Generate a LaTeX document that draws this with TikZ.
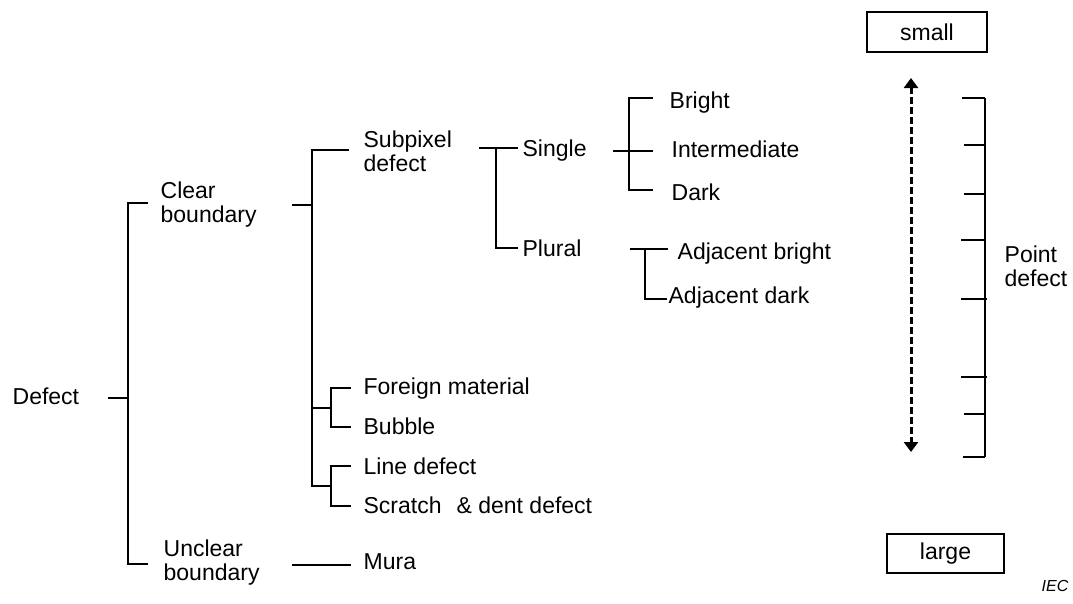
\documentclass[tikz,border=0pt]{standalone}
\usepackage{fontspec}
\setmainfont{Liberation Sans}
\usetikzlibrary{arrows.meta}
\begin{document}
\begin{tikzpicture}[x=1pt,y=-1pt,line width=1.3pt,
  t/.style={inner sep=0pt,font=\fontsize{23}{24}\selectfont,anchor=base west},
  tt/.style={inner sep=0pt,font=\fontsize{23}{24}\selectfont,anchor=west,align=left},
  sizebox/.style={draw,line width=1.2pt,inner sep=0pt,font=\fontsize{23}{24}\selectfont},
  dasharrow/.style={line width=3pt,dash pattern=on 7pt off 3pt,
     {Triangle[width=14pt,length=10pt]}-{Triangle[width=14pt,length=10pt]}}]
\useasboundingbox (0,0) rectangle (1073,603);

% ---- text nodes ----
\node[t] (defect) at (12,404) {Defect};
\node[tt] (clear) at (160,205) {Clear\\boundary};
\node[tt] (unclear) at (163,563) {Unclear\\boundary};
\node[tt] (subpix) at (363,151) {Subpixel\\defect};
\node[t] (single) at (522,156) {Single};
\node[t] (plural) at (522,256) {Plural};
\node[t] (bright) at (669,108) {Bright};
\node[t] (inter) at (671,157) {Intermediate};
\node[t] (dark) at (671,200) {Dark};
\node[t] (adjb) at (677,259) {Adjacent bright};
\node[t] (adjd) at (668,303) {Adjacent dark};
\node[t] (foreign) at (363,394) {Foreign material};
\node[t] (bubble) at (363,434) {Bubble};
\node[t] (linedef) at (363,474) {Line defect};
\node[t] (scratch) at (363,513) {Scratch\hspace*{15pt}\& dent defect};
\node[t] (mura) at (363,569) {Mura};
\node[tt] (point) at (1004,266) {Point\\defect};
\node[sizebox,minimum width=120pt,minimum height=40pt] (small) at (927,32) {small};
\node[sizebox,minimum width=117pt,minimum height=39pt] (large) at (945.5,553.5) {large};
\node[inner sep=0pt,anchor=base east,font=\fontsize{16}{18}\selectfont\itshape] (iec) at (1069,591) {IEC};

% ---- junction coordinates ----
\coordinate (dA) at (108,398);
\coordinate (dJ) at (128,398);
\coordinate (dT) at (128,203);
\coordinate (dB) at (128,564);
\coordinate (cA) at (292,205);
\coordinate (cJ) at (312,205);
\coordinate (cT) at (312,150);
\coordinate (cB) at (312,486);
\coordinate (fJ) at (312,408);
\coordinate (fK) at (331,408);
\coordinate (lK) at (331,486);
\coordinate (uA) at (292,565);
\coordinate (sA) at (479,148);
\coordinate (sJ) at (496,148);
\coordinate (sB) at (496,248);
\coordinate (gA) at (613,151);
\coordinate (gJ) at (629,151);
\coordinate (pA) at (630,249);
\coordinate (pJ) at (645,249);

% ---- Defect bracket ----
\draw (dA) -- (dJ);
\draw (148,203) -- (dT) -- (dB) -- (148,564);

% ---- Clear boundary bracket ----
\draw (cA) -- (cJ);
\draw (349,150) -- (cT) -- (cB) -- (lK);
\draw (fJ) -- (fK);
\draw (351,388) -- (331,388) -- (331,427) -- (351,427);
\draw (351,466) -- (331,466) -- (331,506) -- (351,506);

% ---- Unclear boundary -> Mura ----
\draw (uA) -- (351,565);

% ---- Subpixel defect ----
\draw (sA) -- (518,148);
\draw (sJ) -- (sB) -- (518,248);

% ---- Single ----
\draw (gA) -- (653,151);
\draw (653,98) -- (629,98) -- (629,190) -- (653,190);

% ---- Plural ----
\draw (pA) -- (668,249);
\draw (pJ) -- (645,299) -- (667,299);

% ---- size scale ----
\draw[dasharrow] (911,78) -- (911,452);
\draw (985,98) -- (985,457);
\draw (962,98) -- (985,98);
\draw (964,145) -- (985,145);
\draw (964,194) -- (985,194);
\draw (961,240) -- (985,240);
\draw (961,299) -- (987,299);
\draw (961,377) -- (987,377);
\draw (964,414) -- (985,414);
\draw (963,457) -- (985,457);
\end{tikzpicture}
\end{document}
